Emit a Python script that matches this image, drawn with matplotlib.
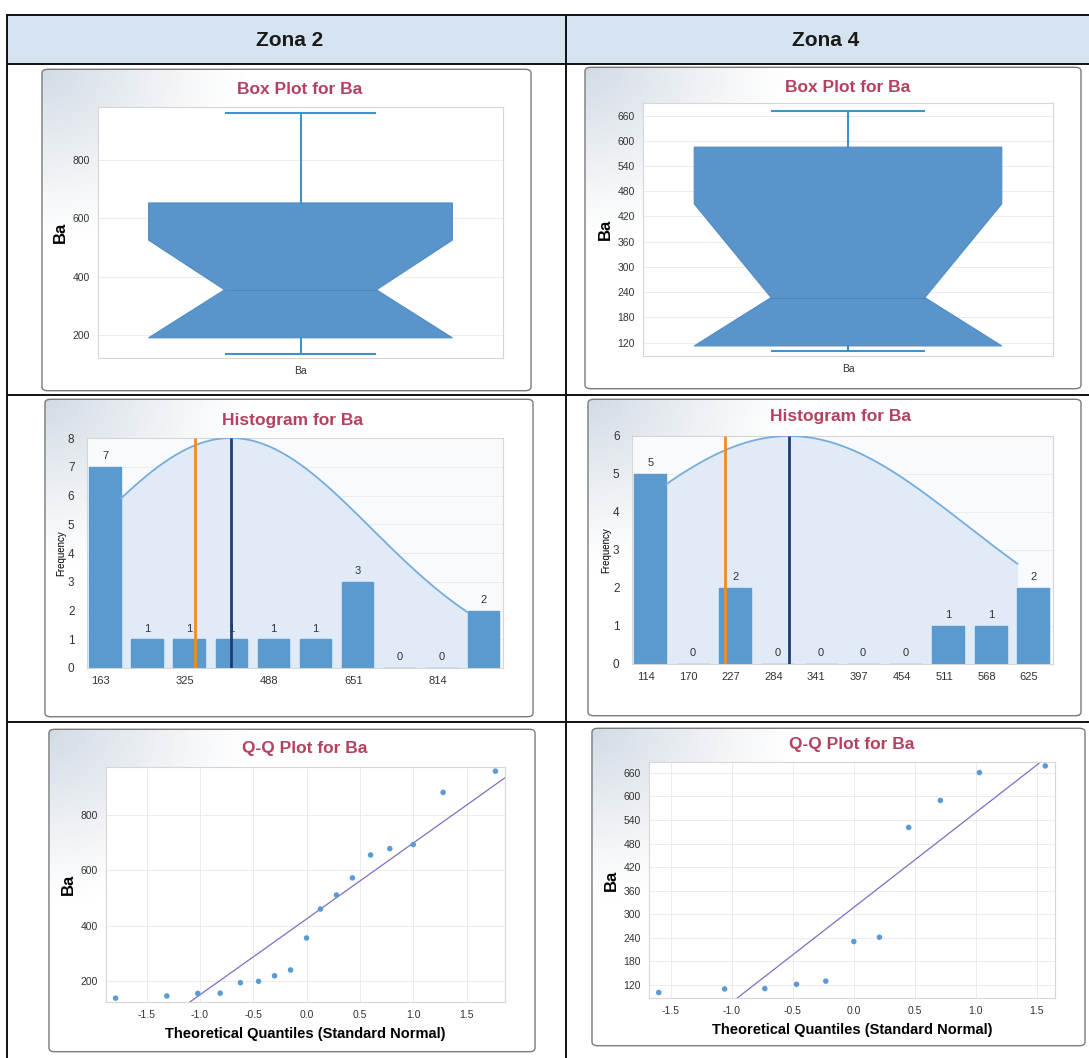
import numpy as np
import matplotlib
matplotlib.use('Agg')
import matplotlib.pyplot as plt
from matplotlib.patches import FancyBboxPatch, Rectangle
from matplotlib.lines import Line2D

# ---------------- data ----------------
zones = ['Zona 2', 'Zona 4']

# Q-Q plot points (theoretical quantile, Ba value)
zona2_quantiles = [-1.79, -1.31, -1.02, -0.81, -0.62, -0.45, -0.30, -0.15, 0.00,
                   0.13, 0.28, 0.43, 0.60, 0.78, 1.00, 1.28, 1.77]
zona2_ba = [137, 145, 154, 155, 193, 198, 218, 239, 355, 460, 511, 573, 656, 679,
            694, 883, 960]
zona4_quantiles = [-1.60, -1.06, -0.73, -0.47, -0.23, 0.00, 0.21, 0.45, 0.71, 1.03, 1.57]
zona4_ba = [100, 109, 110, 121, 129, 230, 241, 521, 590, 661, 678]

# box plot statistics
zona2_box = dict(whislo=137, q1=191, med=355, cilo=191, cihi=525, q3=652, whishi=960, label='Ba')
zona4_box = dict(whislo=101, q1=112, med=227, cilo=112, cihi=450, q3=585, whishi=672, label='Ba')

# histogram counts and bin labels
zona2_counts = [7, 1, 1, 1, 1, 1, 3, 0, 0, 2]
zona2_bin_labels = ['163', '', '325', '', '488', '', '651', '', '814', '']
zona4_counts = [5, 0, 2, 0, 0, 0, 0, 1, 1, 2]
zona4_bin_labels = ['114', '170', '227', '284', '341', '397', '454', '511', '568', '625']

# ---------------- styling ----------------
W, H = 1089, 1058
plt.rcParams['font.family'] = ['Liberation Sans', 'DejaVu Sans']
fig = plt.figure(figsize=(W / 100, H / 100), dpi=100)
fig.patch.set_facecolor('white')

TITLE_C = '#B4415F'
BOX_C = '#5995CB'
WHISK_C = '#3E93CF'
BAR_C = '#5A9ACF'
TICK_C = '#333333'


def frect(x0, y0, x1, y1):
    return [x0 / W, 1 - y1 / H, (x1 - x0) / W, (y1 - y0) / H]


def fx(x):
    return x / W


def fy(y):
    return 1 - y / H


# ---------------- table ----------------
fig.patches.append(Rectangle((fx(7), fy(64)), fx(1089) - fx(7), fy(15) - fy(64),
                             transform=fig.transFigure, facecolor='#D6E3F0',
                             edgecolor='none', zorder=0))
segs = [((7, 15), (1089, 15)), ((7, 64), (1089, 64)), ((7, 395), (1089, 395)),
        ((7, 722), (1089, 722)), ((7, 15), (7, 1058)), ((566, 15), (566, 1058))]
for (xa, ya), (xb, yb) in segs:
    fig.add_artist(Line2D([fx(xa), fx(xb)], [fy(ya), fy(yb)], color='#111111', lw=1.4,
                          transform=fig.transFigure, zorder=10))
for name, xc in zip(zones, [290, 826]):
    fig.text(fx(xc), fy(41), name, ha='center', va='center', fontsize=15,
             fontweight='bold', color='#1a1a1a')


def add_panel(x0, y0, x1, y1, strength=0.6):
    ax = fig.add_axes(frect(x0, y0, x1, y1))
    ax.set_xlim(0, 1)
    ax.set_ylim(0, 1)
    ax.axis('off')
    ny, nx = 200, 300
    X, Y = np.meshgrid(np.linspace(0, 1, nx), np.linspace(0, 1, ny))
    d = np.sqrt((X / 0.42) ** 2 + (Y / 0.55) ** 2)
    a = np.clip(1 - d, 0, 1) ** 1.2 * strength
    img = np.zeros((ny, nx, 4))
    img[..., 0] = 0.70
    img[..., 1] = 0.76
    img[..., 2] = 0.82
    img[..., 3] = a
    im = ax.imshow(img, extent=[0, 1, 0, 1], origin='upper', aspect='auto', zorder=0)
    p = FancyBboxPatch((0.004, 0.004), 0.992, 0.992,
                       boxstyle='round,pad=0,rounding_size=0.012',
                       transform=ax.transAxes, facecolor='none', edgecolor='#7a7a7a',
                       lw=1.0, zorder=2)
    ax.add_patch(p)
    im.set_clip_path(p)
    return ax


def style_axes(ax, grid_axis='both'):
    for s in ax.spines.values():
        s.set_color('#D6D6D6')
        s.set_linewidth(0.8)
    ax.tick_params(length=0, labelsize=7.5, labelcolor=TICK_C, pad=6)
    ax.grid(True, axis=grid_axis, color='#ECECEC', lw=0.7)
    ax.set_axisbelow(True)


# ---------------- panels ----------------
panels_box = [(40, 68, 533, 392), (583, 66, 1083, 390)]
panels_hist = [(43, 398, 535, 718), (586, 398, 1083, 717)]
panels_qq = [(47, 728, 537, 1053), (590, 727, 1087, 1047)]
for p in panels_box + panels_hist + panels_qq:
    add_panel(*p)

# ---------------- box plots ----------------
box_axes_rects = [(98, 107, 503, 358), (643, 103, 1053, 356)]
box_stats = [zona2_box, zona4_box]
box_ylims = [(122, 980), (88, 690)]
box_yticks = [[200, 400, 600, 800], list(range(120, 661, 60))]
box_titles_xy = [(300, 89), (848, 88)]
for rect, st, yl, yt, txy in zip(box_axes_rects, box_stats, box_ylims, box_yticks, box_titles_xy):
    ax = fig.add_axes(frect(*rect))
    ax.bxp([st], positions=[0], widths=0.75, capwidths=0.37, shownotches=True,
           patch_artist=True, showfliers=False,
           boxprops=dict(facecolor=BOX_C, edgecolor='#4F8DC4', lw=0.8),
           whiskerprops=dict(color=WHISK_C, lw=1.5),
           capprops=dict(color=WHISK_C, lw=1.5),
           medianprops=dict(color='#4A86BE', lw=0.8))
    ax.set_xlim(-0.5, 0.5)
    ax.set_ylim(*yl)
    ax.set_yticks(yt)
    style_axes(ax, 'y')
    ax.set_ylabel('Ba', fontsize=12, fontweight='bold', labelpad=3)
    fig.text(fx(txy[0]), fy(txy[1]), 'Box Plot for Ba', ha='center', va='center',
             fontsize=12.5, fontweight='bold', color=TITLE_C)

# ---------------- histograms ----------------
hist_axes_rects = [(87, 438, 503, 668), (632, 436, 1053, 664)]
hist_data = [zona2_ba, zona4_ba]
hist_counts = [zona2_counts, zona4_counts]
hist_labels = [zona2_bin_labels, zona4_bin_labels]
hist_ymax = [8, 6]
hist_titles_xy = [(292, 420), (840, 417)]
for rect, data, counts, labels, ymax, txy in zip(hist_axes_rects, hist_data, hist_counts,
                                                 hist_labels, hist_ymax, hist_titles_xy):
    ax = fig.add_axes(frect(*rect))
    data = np.asarray(data, float)
    lo, hi = data.min(), data.max()
    nb = len(counts)
    edges = np.linspace(lo, hi, nb + 1)
    w = edges[1] - edges[0]
    centers = edges[:-1] + w / 2
    mean = data.mean()
    sd = data.std(ddof=1)
    med = np.median(data)
    ax.set_facecolor('#F8FAFD')
    xs = np.linspace(centers[0] + 0.375 * w, centers[-1] - 0.375 * w, 300)
    ys = ymax * np.exp(-0.5 * ((xs - mean) / sd) ** 2)
    ax.fill_between(xs, 0, ys, color='#E1EBF7', lw=0, zorder=0.6)
    ax.plot(xs, ys, color='#78ACDA', lw=1.3, zorder=3)
    ax.bar(centers, counts, width=0.75 * w, color=BAR_C, edgecolor=BAR_C, lw=1.0, zorder=2)
    for c, n in zip(centers, counts):
        ax.text(c, n + ymax * 0.025, str(n), ha='center', va='bottom', fontsize=8,
                color=TICK_C, zorder=3)
    ax.vlines(med, 0, ymax, color='#F28C1E', lw=2, zorder=5)
    ax.vlines(mean, 0, ymax, color='#1F3C73', lw=2, zorder=5)
    ax.set_xlim(lo + 0.07 * w, hi - 0.04 * w)
    ax.set_ylim(0, ymax)
    ax.set_yticks(range(0, ymax + 1))
    ax.set_xticks(centers - 0.1 * w)
    ax.set_xticklabels(labels)
    style_axes(ax)
    ax.grid(False, axis='x')
    ax.tick_params(axis='x', labelsize=8)
    ax.tick_params(axis='y', labelsize=8.5, pad=9)
    ax.set_ylabel('Frequency', fontsize=7, labelpad=1)
    fig.text(fx(txy[0]), fy(txy[1]), 'Histogram for Ba', ha='center', va='center',
             fontsize=12.5, fontweight='bold', color=TITLE_C)

# ---------------- Q-Q plots ----------------
qq_axes_rects = [(106, 767, 505, 1002), (649, 762, 1055, 998)]
qq_x = [zona2_quantiles, zona4_quantiles]
qq_y = [zona2_ba, zona4_ba]
qq_xlims = [(-1.88, 1.86), (-1.68, 1.65)]
qq_ylims = [(123, 975), (86, 688)]
qq_yticks = [[200, 400, 600, 800], list(range(120, 661, 60))]
qq_titles_xy = [(305, 749), (852, 744)]
for rect, xq, yq, xl, yl, yt, txy in zip(qq_axes_rects, qq_x, qq_y, qq_xlims, qq_ylims,
                                         qq_yticks, qq_titles_xy):
    ax = fig.add_axes(frect(*rect))
    yq_arr = np.asarray(yq, float)
    m, s = yq_arr.mean(), yq_arr.std(ddof=1)
    lx = np.array([-2.5, 2.5])
    ax.plot(lx, m + s * lx, color='#7B70C4', lw=0.9, zorder=2)
    ax.scatter(xq, yq, s=16, color='#5B9BD5', zorder=3, edgecolors='none')
    ax.set_xlim(*xl)
    ax.set_ylim(*yl)
    ax.set_xticks([-1.5, -1.0, -0.5, 0.0, 0.5, 1.0, 1.5])
    ax.set_xticklabels([f'{v:.1f}' for v in [-1.5, -1.0, -0.5, 0.0, 0.5, 1.0, 1.5]])
    ax.set_yticks(yt)
    style_axes(ax)
    ax.set_ylabel('Ba', fontsize=12, fontweight='bold', labelpad=3)
    ax.set_xlabel('Theoretical Quantiles (Standard Normal)', fontsize=10.5,
                  fontweight='bold', labelpad=5)
    fig.text(fx(txy[0]), fy(txy[1]), 'Q-Q Plot for Ba', ha='center', va='center',
             fontsize=12.5, fontweight='bold', color=TITLE_C)

fig.savefig('out.png', dpi=100)
